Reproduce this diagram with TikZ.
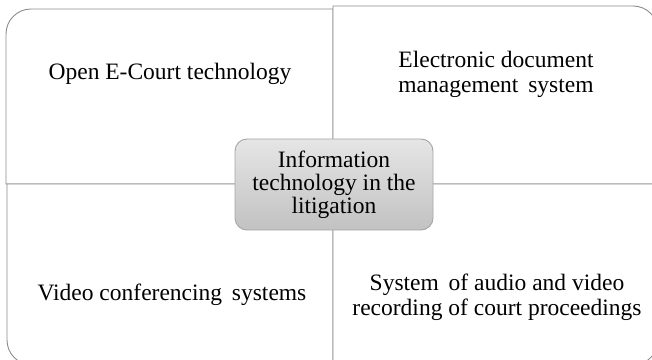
\documentclass[tikz,border=0pt]{standalone}
\usepackage{fontspec}
\setmainfont{Liberation Serif}
\begin{document}
\begin{tikzpicture}[x=1pt,y=1pt,
  quad/.style={draw=black!45, line width=0.9pt, fill=white},
  label/.style={align=center, text=black, font=\fontsize{23.5}{25}\selectfont, inner sep=0pt},
  hub/.style={draw=black!35, line width=0.9pt, rounded corners=12pt,
    top color=black!10, bottom color=black!24,
    minimum width=198pt, minimum height=91pt, align=center, text=black,
    font=\fontsize{23.5}{23}\selectfont, inner sep=0pt}]
\useasboundingbox (0,0) rectangle (652,359);
\clip (0,0) rectangle (652,359);
% quadrants (image y flipped: Y = 359 - y)
% top-left
\draw[quad] (333,175) -- (6,175) -- (6,325) arc[start angle=180,end angle=90,radius=25] -- (333,350) -- cycle;
% top-right
\draw[quad] (333,175) -- (333,353) -- (633,353) arc[start angle=90,end angle=0,radius=25] -- (658,175) -- cycle;
% bottom-left
\draw[quad] (333,175) -- (7,175) -- (7,19) arc[start angle=180,end angle=270,radius=25] -- (333,-6) -- cycle;
% bottom-right
\draw[quad] (333,175) -- (333,-6) -- (633,-6) arc[start angle=270,end angle=360,radius=25] -- (658,175) -- cycle;
% texts
\node[label] (tl) at (170,285.5) {Open E-Court technology};
\node[label] (tr) at (496,284.5) {Electronic document\\management\, system};
\node[label] (bl) at (172,64) {Video conferencing\, systems};
\node[label] (br) at (497,62) {System\, of audio and video\\recording of court proceedings};
% center
\node[hub] (hub) at (334,174.5) {Information\\technology in the\\litigation};
\end{tikzpicture}
\end{document}
